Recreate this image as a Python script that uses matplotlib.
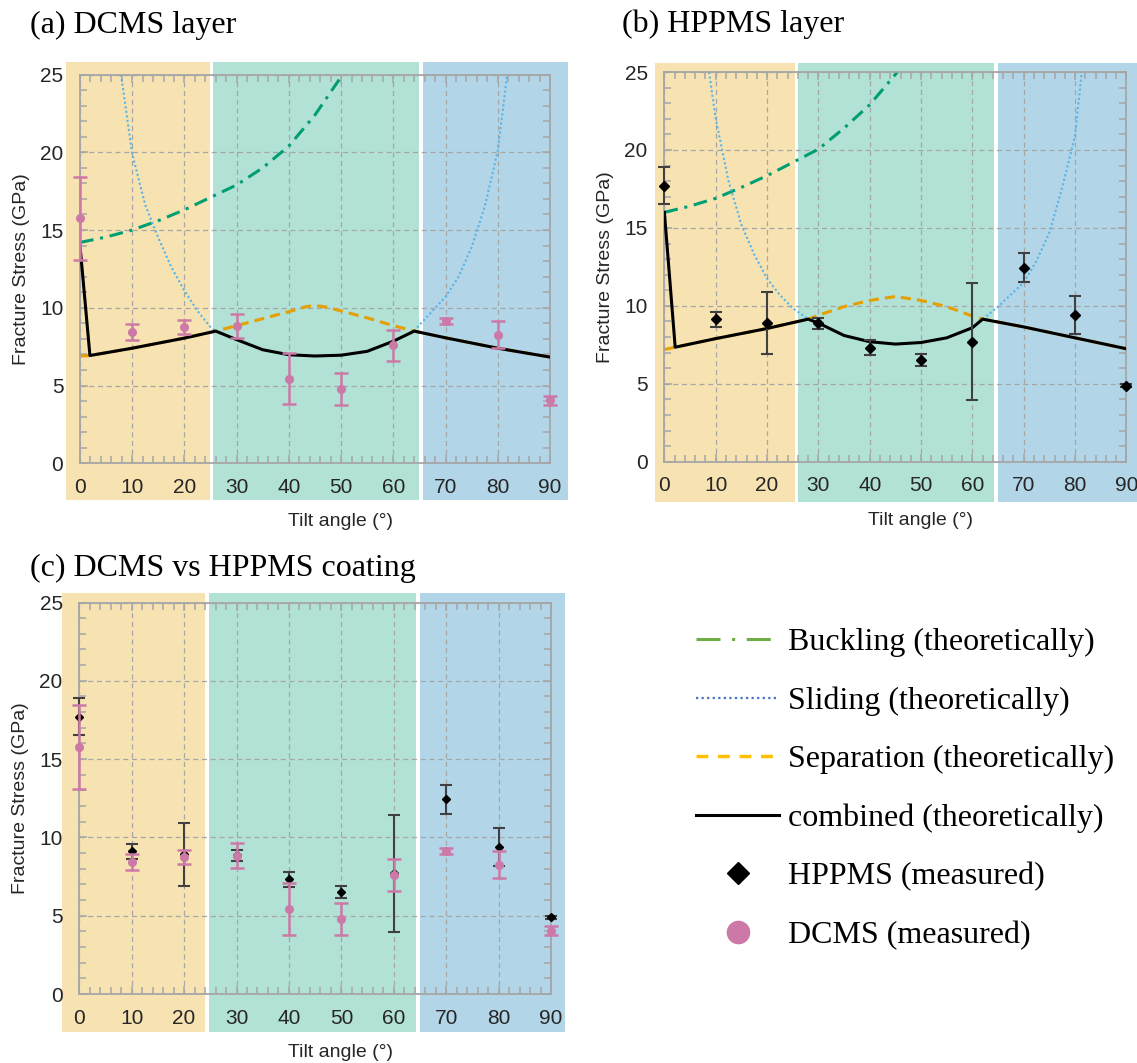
import matplotlib
matplotlib.use("Agg")
import matplotlib.pyplot as plt
from matplotlib.lines import Line2D
from matplotlib.patches import Rectangle
from matplotlib.ticker import MultipleLocator

W, H = 1137, 1063

# measured fracture stress (GPa) at each tilt angle
angles = [0, 10, 20, 30, 40, 50, 60, 70, 80, 90]
dcms_mean = [15.76, 8.43, 8.75, 8.84, 5.43, 4.79, 7.58, 9.14, 8.26, 4.04]
dcms_err = [2.67, 0.52, 0.45, 0.78, 1.64, 1.02, 1.02, 0.19, 0.87, 0.30]
hppms_mean = [17.72, 9.13, 8.92, 8.87, 7.32, 6.53, 7.70, 12.43, 9.41, 4.89]
hppms_err = [1.17, 0.48, 2.00, 0.35, 0.48, 0.38, 3.75, 0.93, 1.21, 0.12]

# theoretical curves, DCMS layer (a)
a_buck_x = [0, 5, 10, 15, 20, 25, 30, 35, 40, 45, 50.3]
a_buck_y = [14.2, 14.55, 15.0, 15.6, 16.3, 17.1, 17.9, 19.0, 20.4, 22.4, 25.0]
a_slide_l_x = [7.85, 10, 12.5, 15, 17.5, 20, 22.5, 25, 26]
a_slide_l_y = [25.0, 19.9, 16.6, 14.5, 12.6, 11.1, 9.8, 8.75, 8.5]
a_slide_r_x = [64, 65, 70, 72.5, 75, 77.5, 80, 81.8]
a_slide_r_y = [8.5, 8.9, 10.7, 12.0, 13.9, 16.5, 20.1, 25.0]
a_sep_x = [0, 1.9, 10, 20, 26, 30, 35, 40, 43, 45, 47, 50, 55, 60, 64, 70, 80, 90]
a_sep_y = [6.9, 6.93, 7.4, 8.05, 8.5, 8.85, 9.3, 9.75, 10.05, 10.15, 10.05, 9.8,
           9.35, 8.85, 8.5, 8.07, 7.4, 6.83]
a_comb_x = [0, 1.9, 10, 20, 26, 30, 35, 40, 45, 50, 55, 60, 64, 70, 80, 90]
a_comb_y = [14.0, 6.93, 7.4, 8.05, 8.5, 7.95, 7.3, 6.98, 6.9, 6.95, 7.2, 7.85,
            8.5, 8.07, 7.4, 6.83]

# theoretical curves, HPPMS layer (b)
b_buck_x = [0, 5, 10, 15, 20, 25, 30, 35, 40, 45.4]
b_buck_y = [16.0, 16.4, 16.9, 17.6, 18.35, 19.2, 20.05, 21.4, 22.9, 25.0]
b_slide_l_x = [8.7, 10, 12.5, 15, 17.5, 20, 22.5, 25, 28]
b_slide_l_y = [25.0, 22.0, 18.0, 15.2, 13.3, 11.75, 10.7, 9.85, 9.15]
b_slide_r_x = [62, 65, 70, 72.5, 75, 77.5, 80, 81.3]
b_slide_r_y = [9.15, 9.95, 11.5, 12.9, 14.7, 17.6, 20.9, 25.0]
b_sep_x = [0, 2.1, 10, 20, 28, 30, 35, 40, 45, 50, 55, 60, 62, 70, 80, 90]
b_sep_y = [7.2, 7.35, 7.9, 8.55, 9.15, 9.4, 9.95, 10.35, 10.6, 10.35, 9.95,
           9.35, 9.15, 8.65, 7.95, 7.25]
b_comb_x = [0, 2.1, 10, 20, 28, 30, 35, 40, 45, 50, 55, 60, 62, 70, 80, 90]
b_comb_y = [16.0, 7.35, 7.9, 8.55, 9.15, 8.9, 8.1, 7.7, 7.55, 7.65, 7.95, 8.6,
            9.15, 8.65, 7.95, 7.25]

ORANGE_BG = "#F7E2B2"
GREEN_BG = "#B2E2D5"
BLUE_BG = "#B2D5E8"
PINK = "#CC79A7"
BUCK_C = "#009E73"
SLIDE_C = "#56B4E9"
SEP_C = "#E69F00"
GRID_C = "#A6A6A6"

plt.rcParams["font.family"] = ["Liberation Sans", "DejaVu Sans"]
SERIF = ["Liberation Serif", "DejaVu Serif"]

fig = plt.figure(figsize=(W / 100, H / 100), dpi=100)


def px_box(left, top, right, bottom):
    return [left / W, 1 - bottom / H, (right - left) / W, (bottom - top) / H]


def setup_axes(box, bands, yspan):
    ax = fig.add_axes(px_box(*box))
    width_px = box[2] - box[0]
    ax.set_xlim(0, 90)
    ax.set_ylim(0, 25)
    ax.set_facecolor("none")
    for s in ax.spines.values():
        s.set_color(GRID_C)
        s.set_linewidth(1.3)
    ax.xaxis.set_major_locator(MultipleLocator(10))
    ax.xaxis.set_minor_locator(MultipleLocator(2))
    ax.yaxis.set_major_locator(MultipleLocator(5))
    ax.yaxis.set_minor_locator(MultipleLocator(1))
    ax.tick_params(which="both", direction="in", top=True, right=True,
                   color=GRID_C, width=1.1, labelsize=15, labelcolor="#262626")
    ax.tick_params(which="major", length=6)
    ax.tick_params(which="minor", length=5)
    ax.tick_params(axis="x", pad=10.5)
    ax.tick_params(axis="y", pad=12)
    ax.grid(True, which="major", color=GRID_C, linestyle=(0, (4, 3)), linewidth=0.9)
    ax.set_axisbelow(True)

    # coloured angle regions reach past the frame
    for (x0, x1), c in zip(bands, [ORANGE_BG, GREEN_BG, BLUE_BG]):
        ax.add_patch(Rectangle((x0, yspan[0]), x1 - x0, yspan[1] - yspan[0],
                               facecolor=c, edgecolor="none", clip_on=False, zorder=0))

    ax.set_xlabel("Tilt angle (°)", fontsize=14, color="#262626")
    ax.set_ylabel("Fracture Stress (GPa)", fontsize=14, color="#262626")
    ax.xaxis.set_label_coords(0.5 + 25 / width_px, -50 / (box[3] - box[1]))
    ax.yaxis.set_label_coords(-50 / width_px, 0.5)
    return ax


def theory(ax, bx, by, slx, sly, srx, sry, sx, sy, cx, cy):
    ax.plot(bx, by, color=BUCK_C, lw=2.2, dashes=(4.5, 2.2, 1, 2.2), zorder=2)
    ax.plot(slx, sly, color=SLIDE_C, lw=1.5, dashes=(1, 1.2), zorder=2)
    ax.plot(srx, sry, color=SLIDE_C, lw=1.5, dashes=(1, 1.2), zorder=2)
    ax.plot(sx, sy, color=SEP_C, lw=2.2, dashes=(3.3, 2), zorder=2)
    ax.plot(cx, cy, color="black", lw=2.2, zorder=3)


def measured(ax, y, err, kind, ms):
    if kind == "dcms":
        eb = ax.errorbar(angles, y, yerr=err, fmt="o", color=PINK, ms=ms,
                         elinewidth=1.8, capsize=5, capthick=1.8, zorder=5)
    else:
        eb = ax.errorbar(angles, y, yerr=err, fmt="D", color="black", ms=ms,
                         ecolor="#404040", elinewidth=1.5, capsize=4.5,
                         capthick=1.5, zorder=4)
    for art in eb.get_children():
        art.set_clip_on(False)


# (a) DCMS layer
ax_a = setup_axes((80, 74.5, 550, 463.3),
                  [(-2.7, 24.8), (25.4, 65.0), (65.7, 93.5)], (-2.35, 25.8))
theory(ax_a, a_buck_x, a_buck_y, a_slide_l_x, a_slide_l_y, a_slide_r_x, a_slide_r_y,
       a_sep_x, a_sep_y, a_comb_x, a_comb_y)
measured(ax_a, dcms_mean, dcms_err, "dcms", 5.5)

# (b) HPPMS layer
ax_b = setup_axes((664.4, 72, 1126.4, 461.8),
                  [(-1.9, 25.4), (26.0, 64.2), (65.0, 100)], (-2.58, 25.55))
theory(ax_b, b_buck_x, b_buck_y, b_slide_l_x, b_slide_l_y, b_slide_r_x, b_slide_r_y,
       b_sep_x, b_sep_y, b_comb_x, b_comb_y)
measured(ax_b, hppms_mean, hppms_err, "hppms", 5.5)

# (c) DCMS vs HPPMS coating
ax_c = setup_axes((79.3, 602.5, 551, 994),
                  [(-3.3, 24.0), (24.7, 64.3), (65.1, 92.6)], (-2.4, 25.58))
measured(ax_c, hppms_mean, hppms_err, "hppms", 4.2)
measured(ax_c, dcms_mean, dcms_err, "dcms", 5.5)

fig.text(30 / W, 1 - 25 / H, "(a) DCMS layer", family=SERIF, fontsize=23,
         va="center", ha="left")
fig.text(622 / W, 1 - 24 / H, "(b) HPPMS layer", family=SERIF, fontsize=23,
         va="center", ha="left")
fig.text(30 / W, 1 - 568 / H, "(c) DCMS vs HPPMS coating", family=SERIF, fontsize=23,
         va="center", ha="left")

handles = [
    Line2D([], [], color="#70AD47", lw=2.2, dashes=(7.85, 3.8, 1, 3.8)),
    Line2D([], [], color="#4472C4", lw=1.6, dashes=(1, 1.5)),
    Line2D([], [], color="#FFC000", lw=2.5, dashes=(3.4, 2.8)),
    Line2D([], [], color="black", lw=2.2),
    Line2D([], [], color="black", marker="D", ms=11, linestyle="none"),
    Line2D([], [], color=PINK, marker="o", ms=16, linestyle="none"),
]
labels = ["Buckling (theoretically)", "Sliding (theoretically)",
          "Separation (theoretically)", "combined (theoretically)",
          "HPPMS (measured)", "DCMS (measured)"]
fig.legend(handles, labels, loc="upper left", bbox_to_anchor=(696 / W, 1 - 628 / H),
           bbox_transform=fig.transFigure, frameon=False,
           prop={"family": SERIF, "size": 23}, handlelength=2.6,
           handletextpad=0.28, labelspacing=0.91, borderpad=0, borderaxespad=0)

fig.savefig("out.png", dpi=100)
